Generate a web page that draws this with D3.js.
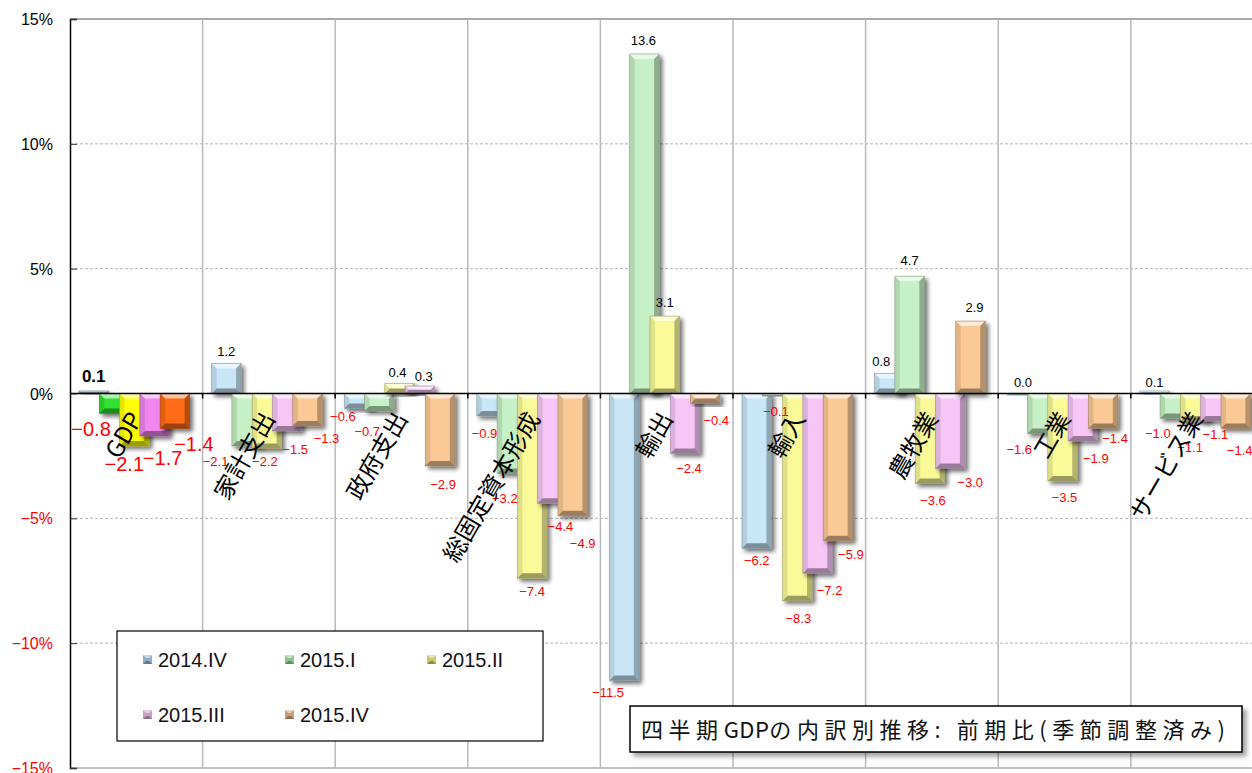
<!DOCTYPE html>
<html><head><meta charset="utf-8">
<script src="https://cdn.jsdelivr.net/npm/d3@7"></script>
<style>body{margin:0;background:#fff;overflow:hidden}</style>
</head><body><svg id="c" width="1252" height="773"></svg>
<script>
// ---- data ----
const categories = ["GDP","家計支出","政府支出","総固定資本形成","輸出","輸入","農牧業","工業","サービス業"];
const seriesNames = ["2014.IV","2015.I","2015.II","2015.III","2015.IV"];
const s2014IV  = [0.1, 1.2, -0.6, -0.9, -11.5, -6.2, 0.8, 0.0, 0.1];
const s2015I   = [-0.8, -2.1, -0.7, -3.2, 13.6, -0.1, 4.7, -1.6, -1.0];
const s2015II  = [-2.1, -2.2, 0.4, -7.4, 3.1, -8.3, -3.6, -3.5, -1.1];
const s2015III = [-1.7, -1.5, 0.3, -4.4, -2.4, -7.2, -3.0, -1.9, -1.1];
const s2015IV  = [-1.4, -1.3, -2.9, -4.9, -0.4, -5.9, 2.9, -1.4, -1.4];
const yTicks = [15, 10, 5, 0, -5, -10, -15];
const titleParts = ["四半期", "GDP", "の内訳別推移: 前期比(季節調整済み)"];

// ---- layout / style ----
const series = [s2014IV, s2015I, s2015II, s2015III, s2015IV];
const pastel = ["#c8e6f7", "#c6f0c6", "#fafa98", "#f7c6f7", "#fbc996"];
const gdpColors = ["#8fb0c2", "#30e030", "#ffff00", "#ee86ee", "#ff6a12"];
const legendColors = ["#8fb0c0", "#8fc48f", "#c9c86e", "#c79fc7", "#c99e74"];
// manual data-label nudges [dx, dy] (category x series), as in the original
const labelShift = [
  [[0,-4],[-23,0],[-10,3],[8,7],[19,0]],
  [[0,-1],[-31,0],[-2,-2],[8,3],[19,-3]],
  [[-16,-7],[-12,5],[-2,0],[4,1],[3,3]],
  [[-7,2],[-7,10],[0,-2],[8,8],[10,12]],
  [[-16,-3],[-1,-3],[0,-3],[4,0],[11,2]],
  [[0,-3],[-1,0],[1,3],[12,2],[13,-1]],
  [[-8,-1],[0,-5],[3,2],[20,-1],[4,-3]],
  [[1,0],[-23,1],[2,1],[13,2],[12,-5]],
  [[0,2],[-17,0],[-5,11],[0,-2],[4,7]]
];

const svg = d3.select("#c");
const plotLeft = 70, plotTop = 19, plotBottom = 768, bandW = 132.6;
const x = d3.scaleBand().domain(categories).range([plotLeft, plotLeft + bandW * categories.length]).padding(0);
const y = d3.scaleLinear().domain([-15, 15]).range([plotBottom, plotTop]);
const bw = x.bandwidth();
const barOff = bw * 0.068, barStep = bw * 0.153, barW = bw * 0.222;
const y0 = y(0);

const defs = svg.append("defs");
const f = defs.append("filter").attr("id", "sh").attr("x", "-30%").attr("y", "-30%").attr("width", "160%").attr("height", "160%");
f.append("feDropShadow").attr("dx", 3).attr("dy", 3).attr("stdDeviation", 2).attr("flood-color", "#000").attr("flood-opacity", 0.55);
const f2 = defs.append("filter").attr("id", "sh2").attr("x", "-10%").attr("y", "-30%").attr("width", "120%").attr("height", "160%");
f2.append("feDropShadow").attr("dx", 4).attr("dy", 4).attr("stdDeviation", 2).attr("flood-color", "#000").attr("flood-opacity", 0.35);

// ---- grid ----
const grid = svg.append("g");
[10, 5, -5, -10].forEach(v => {
  grid.append("line").attr("x1", plotLeft).attr("x2", 1252).attr("y1", y(v)).attr("y2", y(v))
    .attr("stroke", "#b4b4b4").attr("stroke-width", 1).attr("stroke-dasharray", "3,2");
});
grid.append("line").attr("x1", plotLeft).attr("x2", 1252).attr("y1", y(15)).attr("y2", y(15)).attr("stroke", "#555").attr("stroke-width", 1);
grid.append("line").attr("x1", plotLeft).attr("x2", 1252).attr("y1", y(-15)).attr("y2", y(-15)).attr("stroke", "#aaa").attr("stroke-width", 1.5);
categories.forEach((c, i) => {
  if (i === 0) return;
  grid.append("line").attr("x1", x(c)).attr("x2", x(c)).attr("y1", y(15)).attr("y2", y(-15))
    .attr("stroke", "#b8b8b8").attr("stroke-width", 1.5);
});

// ---- bars ----
function bar(g, x0, yTop, w, h, color) {
  const b = Math.min(5, w / 2, h / 2);
  const bg = g.append("g").attr("filter", "url(#sh)");
  bg.append("rect").attr("x", x0).attr("y", yTop).attr("width", w).attr("height", h).attr("fill", color);
  const poly = (pts, fill, op) => bg.append("polygon").attr("points", pts.map(p => p.join(",")).join(" ")).attr("fill", fill).attr("opacity", op);
  const x1 = x0 + w, y1 = yTop + h;
  poly([[x0, yTop], [x1, yTop], [x1 - b, yTop + b], [x0 + b, yTop + b]], "#fff", 0.6);
  poly([[x0, yTop], [x0 + b, yTop + b], [x0 + b, y1 - b], [x0, y1]], "#000", 0.1);
  poly([[x1, yTop], [x1, y1], [x1 - b, y1 - b], [x1 - b, yTop + b]], "#000", 0.28);
  poly([[x0, y1], [x0 + b, y1 - b], [x1 - b, y1 - b], [x1, y1]], "#000", 0.38);
  bg.append("rect").attr("x", x0).attr("y", yTop).attr("width", w).attr("height", h)
    .attr("fill", "none").attr("stroke", d3.color(color).darker(1.2)).attr("stroke-width", 0.6);
}
const bars = svg.append("g");
categories.forEach((c, ci) => {
  series.forEach((s, si) => {
    const v = s[ci];
    const x0 = x(c) + barOff + si * barStep;
    const ya = Math.min(y(v), y0), h = Math.max(Math.abs(y(v) - y0), 1.5);
    bar(bars, x0, ya, barW, h, ci === 0 ? gdpColors[si] : pastel[si]);
  });
});

// zero line + axis
svg.append("line").attr("x1", plotLeft).attr("x2", 1252).attr("y1", y0).attr("y2", y0).attr("stroke", "#000").attr("stroke-width", 1.5);
categories.forEach((c, i) => {
  if (i === 0) return;
  svg.append("line").attr("x1", x(c)).attr("x2", x(c)).attr("y1", y0).attr("y2", y0 + 5).attr("stroke", "#000").attr("stroke-width", 1.5);
});
const axis = svg.append("g").attr("transform", `translate(${plotLeft},0)`)
  .call(d3.axisRight(y).tickValues(yTicks).tickSize(7).tickFormat(""));
axis.select(".domain").attr("stroke", "#000").attr("stroke-width", 1.5);
axis.selectAll(".tick line").attr("stroke", "#333");
svg.append("g").selectAll("text").data(yTicks).join("text")
  .attr("x", 53).attr("y", d => y(d) + 6).attr("text-anchor", "end")
  .attr("font-family", "Liberation Sans, Arial, sans-serif").attr("font-size", 16)
  .attr("fill", d => d < 0 ? "#ff0000" : "#000")
  .text(d => d3.format("d")(d) + "%");

// ---- value labels ----
const fmt = d3.format(".1f");
const vl = svg.append("g").attr("font-family", "Liberation Sans, Arial, sans-serif");
categories.forEach((c, ci) => {
  series.forEach((s, si) => {
    const v = s[ci];
    const cx = x(c) + barOff + si * barStep + barW / 2 + labelShift[ci][si][0];
    const gdp = ci === 0;
    const fs = gdp ? (v < 0 ? 20 : 17) : 13;
    let cy = v < 0 ? y(v) + 15 : y(v) - 11;
    cy += labelShift[ci][si][1];
    vl.append("text").attr("x", cx).attr("y", cy + fs * 0.36).attr("text-anchor", "middle")
      .attr("font-size", fs).attr("font-weight", gdp && v >= 0 ? "bold" : "normal")
      .attr("fill", v < 0 ? "#ff0000" : "#000").text(fmt(v));
  });
});

// ---- category labels ----
svg.append("g").selectAll("text").data(categories).join("text")
  .attr("transform", d => `translate(${x(d) + bw / 2 + 7},${y0 + 25}) rotate(-60)`)
  .attr("text-anchor", "end").attr("font-family", "Noto Sans CJK JP, sans-serif")
  .attr("font-size", 24).attr("fill", "#000").text(d => d);

// ---- legend ----
const lg = svg.append("g");
lg.append("rect").attr("x", 117).attr("y", 631).attr("width", 426).attr("height", 110)
  .attr("fill", "#fff").attr("stroke", "#000").attr("stroke-width", 1.2);
seriesNames.forEach((n, i) => {
  const col = i % 3, row = Math.floor(i / 3);
  const lx = 143 + col * 142, ly = 660 + row * 55;
  const sw = lg.append("g");
  sw.append("rect").attr("x", lx).attr("y", ly - 5).attr("width", 9).attr("height", 9).attr("fill", legendColors[i]);
  sw.append("polygon").attr("points", `${lx},${ly-5} ${lx+9},${ly-5} ${lx+6},${ly-2} ${lx+3},${ly-2}`).attr("fill", "#fff").attr("opacity", 0.5);
  sw.append("polygon").attr("points", `${lx},${ly+4} ${lx+9},${ly+4} ${lx+6},${ly+1} ${lx+3},${ly+1}`).attr("fill", "#000").attr("opacity", 0.3);
  lg.append("text").attr("x", lx + 15).attr("y", ly + 7).attr("font-family", "Liberation Sans, Arial, sans-serif")
    .attr("font-size", 20).attr("fill", "#111").text(n);
});

// ---- title box ----
const tb = svg.append("g");
tb.append("rect").attr("x", 630).attr("y", 706).attr("width", 612).attr("height", 46)
  .attr("fill", "#fff").attr("stroke", "#000").attr("stroke-width", 1.5).attr("filter", "url(#sh2)");
const tt = tb.append("text").attr("x", 641).attr("y", 738).attr("font-family", "Noto Sans CJK JP, sans-serif")
  .attr("font-size", 22).attr("fill", "#111");
const spans = titleParts.map(p => tt.append("tspan").text(p));
// spread the full-width characters to fill the box, keeping "GDP" tight
const natural = tt.node().getComputedTextLength();
const nCjk = titleParts[0].length + titleParts[2].length;
const ls = Math.max(0, (588 - natural) / nCjk);
spans[0].attr("letter-spacing", ls);
spans[1].attr("letter-spacing", 0.5);
spans[2].attr("letter-spacing", ls);
</script></body></html>
